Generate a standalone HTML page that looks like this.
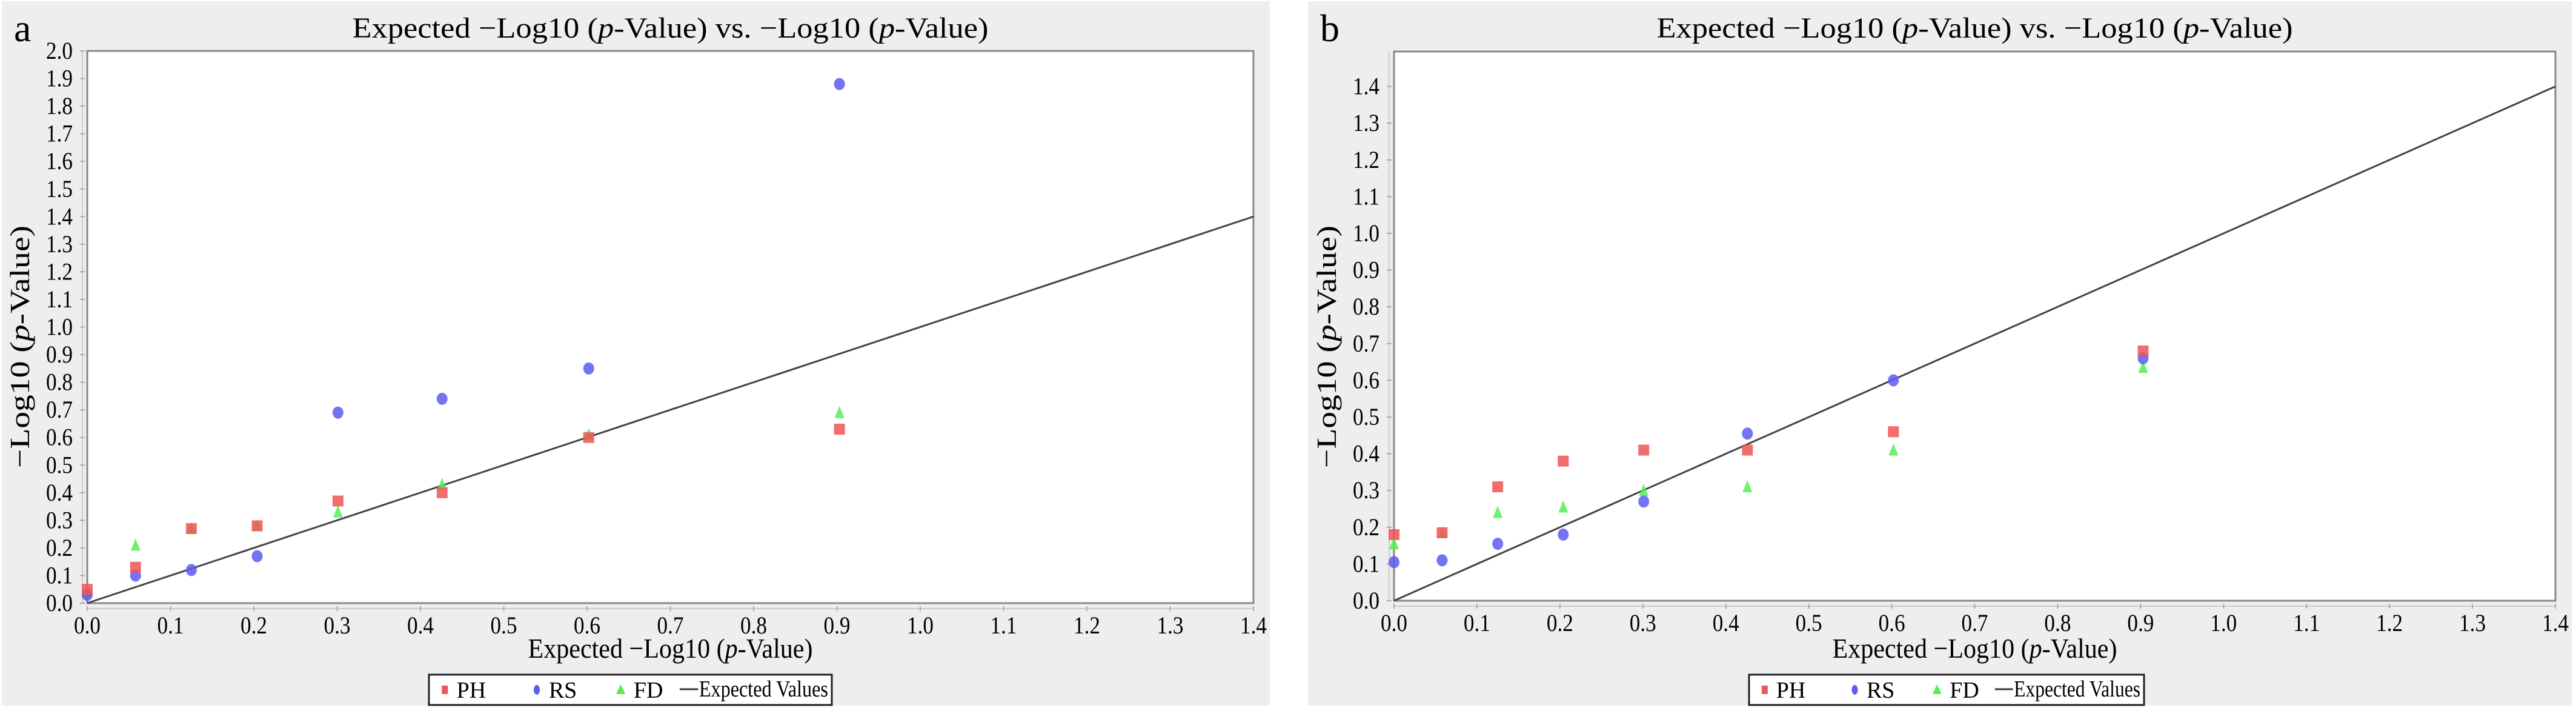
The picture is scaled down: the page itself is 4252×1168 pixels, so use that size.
<!DOCTYPE html>
<html><head><meta charset="utf-8">
<style>
html,body{margin:0;padding:0;background:#fff;}
svg{display:block;}
text{font-family:"Liberation Serif",serif;fill:#000;}
</style></head>
<body>
<svg id="root" width="4252" height="1168" viewBox="0 0 4252 1168"></svg>
<script>
// ---- data ----
const expectedX = [0, 0.058, 0.125, 0.204, 0.301, 0.426, 0.602, 0.903];
const aPH = [0.05, 0.13, 0.27, 0.28, 0.37, 0.40, 0.60, 0.63];
const aRS = [0.03, 0.10, 0.12, 0.17, 0.69, 0.74, 0.85, 1.88];
const aFD = [0.04, 0.21, 0.27, 0.28, 0.33, 0.43, 0.61, 0.69];
const bPH = [0.18, 0.185, 0.31, 0.38, 0.41, 0.41, 0.46, 0.68];
const bRS = [0.105, 0.11, 0.155, 0.18, 0.27, 0.455, 0.60, 0.66];
const bFD = [0.155, 0.185, 0.24, 0.255, 0.30, 0.31, 0.41, 0.635];
const xTicks = ["0.0","0.1","0.2","0.3","0.4","0.5","0.6","0.7","0.8","0.9","1.0","1.1","1.2","1.3","1.4"];
const aYTicks = ["0.0","0.1","0.2","0.3","0.4","0.5","0.6","0.7","0.8","0.9","1.0","1.1","1.2","1.3","1.4","1.5","1.6","1.7","1.8","1.9","2.0"];
const bYTicks = ["0.0","0.1","0.2","0.3","0.4","0.5","0.6","0.7","0.8","0.9","1.0","1.1","1.2","1.3","1.4"];
const expLine = [0, 1.4];

const NS = "http://www.w3.org/2000/svg";
const root = document.getElementById('root');
function mk(tag, attrs, parent){ const e=document.createElementNS(NS,tag); for(const k in attrs) e.setAttribute(k,attrs[k]); (parent||root).appendChild(e); return e; }

function panel(p){
  const g = mk('g',{});
  
  
  const bg = mk('rect',{x:p.bgx,y:2,width:p.bgw,height:1162,fill:'#eeeeee'},g);
  
  
  const L=p.L,R=p.R,T=p.T,B=p.B;
  const sx = v => L + (v - 0)/1.4*(R-L);
  const sy = v => B - v/p.ymax*(B-T);
  const pl = mk('rect',{x:L,y:T,width:R-L,height:B-T,fill:'#fff',stroke:'#888',"stroke-width":3},g);
  
  
  const lt = mk('text',{x:p.bgx+20,y:68,"font-size":64},g); lt.textContent=p.label;
  
  
  const tt = mk('text',{x:(L+R)/2,y:62,"font-size":48,"text-anchor":"middle",textLength:1050,lengthAdjust:"spacingAndGlyphs"},g);
  tt.innerHTML='Expected \u2212Log10 (<tspan font-style="italic">p</tspan>-Value) vs. \u2212Log10 (<tspan font-style="italic">p</tspan>-Value)';
  
  
  mk('line',{x1:L-8,y1:T,x2:L-8,y2:B,stroke:'#ccc',"stroke-width":2},g);
  mk('line',{x1:L,y1:B+9,x2:R,y2:B+9,stroke:'#ccc',"stroke-width":2},g);
  xTicks.forEach((t,i)=>{
    const v=parseFloat(t), x=sx(v);
    mk('line',{x1:x,y1:B+5,x2:x,y2:B+13,stroke:'#aaa',"stroke-width":2},g);
    const e=mk('text',{x:x,y:B+50,"font-size":40,"text-anchor":"middle",textLength:44,lengthAdjust:"spacingAndGlyphs"},g);
    e.textContent=t;
    
    
  });
  p.yTicks.forEach(t=>{
    const v=parseFloat(t), y=sy(v);
    mk('line',{x1:L-12,y1:y,x2:L-4,y2:y,stroke:'#aaa',"stroke-width":2},g);
    const e=mk('text',{x:L-24,y:y+13,"font-size":40,"text-anchor":"end",textLength:44,lengthAdjust:"spacingAndGlyphs"},g);
    e.textContent=t;
    
    
  });
  const xt=mk('text',{x:(L+R)/2,y:1085,"font-size":46,"text-anchor":"middle",textLength:470,lengthAdjust:"spacingAndGlyphs"},g);
  xt.innerHTML='Expected \u2212Log10 (<tspan font-style="italic">p</tspan>-Value)';
  
  
  const yc = p.ytc;
  const yt=mk('text',{x:0,y:0,"font-size":46,"text-anchor":"middle",transform:`translate(${p.ytx},${yc}) rotate(-90)`,textLength:400,lengthAdjust:"spacingAndGlyphs"},g);
  yt.innerHTML='\u2212Log10 (<tspan font-style="italic">p</tspan>-Value)';
  
  
  const el=mk('line',{x1:sx(expLine[0]),y1:sy(expLine[0]),x2:sx(expLine[1]),y2:sy(expLine[1]),stroke:'#444',"stroke-width":3},g);
  
  
  const drawSq=(x,y,par)=>mk('rect',{x:x-9,y:y-9,width:18,height:18,fill:'#f05555',"fill-opacity":0.85},par);
  const drawCi=(x,y,par)=>mk('ellipse',{cx:x,cy:y,rx:9,ry:10,fill:'#5c5cf0',"fill-opacity":0.85},par);
  const drawTr=(x,y,par)=>mk('polygon',{points:`${x},${y-11} ${x+8},${y+9} ${x-8},${y+9}`,fill:'#55ee55',"fill-opacity":0.85},par);
  [[p.FD,drawTr,'fd'],[p.RS,drawCi,'rs'],[p.PH,drawSq,'ph']].forEach(([arr,fn,nm])=>{
    arr.forEach((v,i)=>{
      const m=fn(sx(expectedX[i]),sy(v),g);
      
      
    });
  });
  const lx=p.legX, ly=1113, lw=p.legW, lh=50;
  const lg=mk('g',{},g);
  
  
  mk('rect',{x:lx,y:ly,width:lw,height:lh,fill:'#fff',stroke:'#222',"stroke-width":3},lg);
  const k=lw/437;
  mk('rect',{x:lx+14*k,y:ly+18,width:10,height:14,fill:'#f05555'},lg);
  const t1=mk('text',{x:lx+30*k,y:ly+38,"font-size":38},lg); t1.textContent='PH';
  mk('ellipse',{cx:lx+117*k,cy:ly+25,rx:5,ry:8,fill:'#5c5cf0'},lg);
  const t2=mk('text',{x:lx+130*k,y:ly+38,"font-size":38},lg); t2.textContent='RS';
  mk('polygon',{points:`${lx+208*k},${ly+16} ${lx+213*k},${ly+32} ${lx+203*k},${ly+32}`,fill:'#55ee55'},lg);
  const t3=mk('text',{x:lx+222*k,y:ly+38,"font-size":38},lg); t3.textContent='FD';
  mk('line',{x1:lx+272*k,y1:ly+24,x2:lx+292*k,y2:ly+24,stroke:'#333',"stroke-width":3},lg);
  const t4=mk('text',{x:lx+293*k,y:ly+36,"font-size":38,textLength:140*k,lengthAdjust:"spacingAndGlyphs"},lg); t4.textContent='Expected Values';
  [t1,t2,t3,t4].forEach(t=>{
    
    
  });
}

panel({label:'a',bgx:3,bgw:2093,L:144,R:2069,T:84,B:995,ymax:2.0,yTicks:aYTicks,PH:aPH,RS:aRS,FD:aFD,legX:708,legW:665,ytx:48,ytc:572});
panel({label:'b',bgx:2159,bgw:2086,L:2301,R:4218,T:85,B:991,ymax:1.495,yTicks:bYTicks,PH:bPH,RS:bRS,FD:bFD,legX:2887,legW:652,ytx:2205,ytc:572});
</script>
</body></html>
